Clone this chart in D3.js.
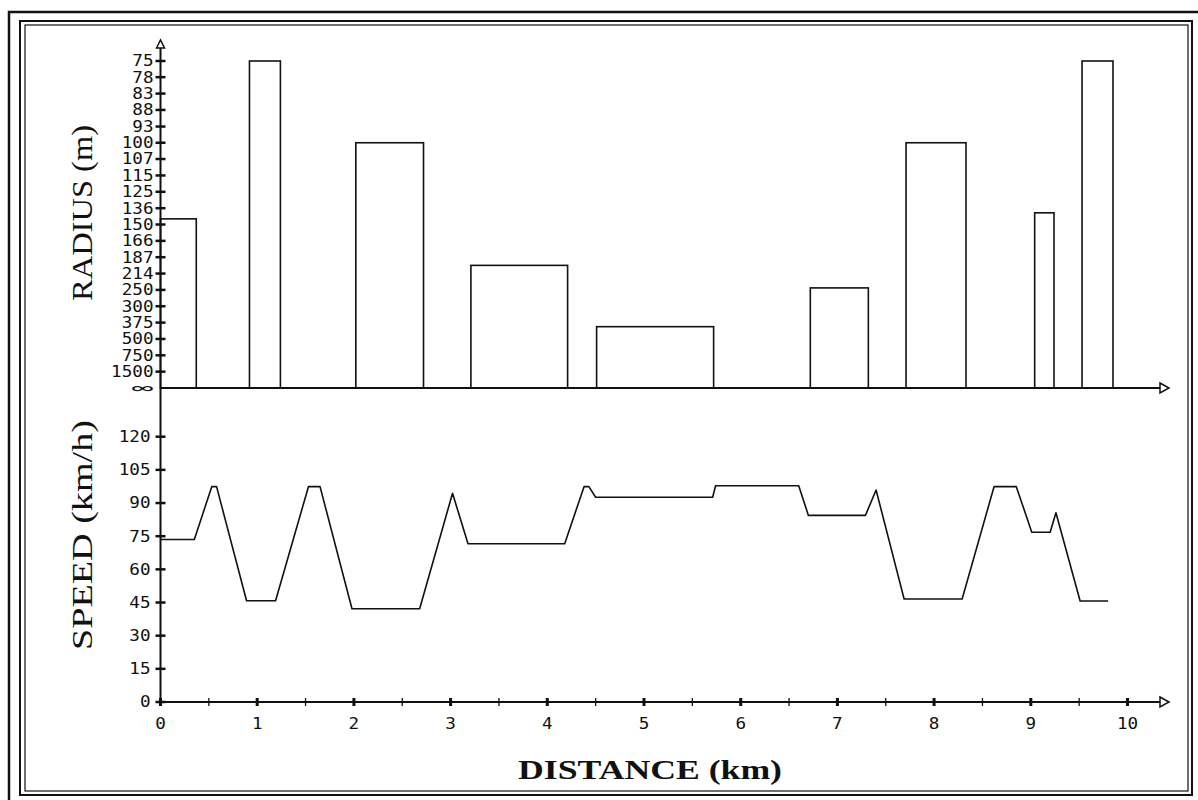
<!DOCTYPE html>
<html>
<head>
<meta charset="utf-8">
<script src="https://cdn.jsdelivr.net/npm/d3@7"></script>
<style>
  body { margin: 0; background: #fff; }
  #chart { width: 1198px; height: 800px; }
  .tick-label { font-family: "DejaVu Sans Mono", monospace; font-size: 15px; fill: #111; }
  .axis-title { font-family: "Liberation Serif", "DejaVu Serif", serif; fill: #111; }
</style>
</head>
<body>
<div id="chart"></div>
<script>
// curves along the road: start / end (km) and radius (m)
const curveStart = [0, 0.92, 2.02, 3.21, 4.51, 6.72, 7.71, 9.04, 9.53];
const curveEnd = [0.37, 1.24, 2.72, 4.21, 5.72, 7.32, 8.33, 9.24, 9.85];
const curveRadius = [145, 75, 100, 200, 400, 245, 100, 140, 75];

// speed profile
const speedDist = [0, 0.35, 0.53, 0.58, 0.89, 1.19, 1.53, 1.65, 1.98, 2.68,
    3.02, 3.18, 4.18, 4.38, 4.43, 4.50, 5.71, 5.74, 6.60, 6.70,
    7.29, 7.40, 7.69, 8.29, 8.62, 8.85, 9.01, 9.20, 9.26, 9.51, 9.80];
const speedValue = [73.5, 73.5, 97.4, 97.4, 45.8, 45.8, 97.4, 97.4, 42.2, 42.2,
    94.4, 71.6, 71.6, 97.4, 97.4, 92.6, 92.6, 97.8, 97.8, 84.4,
    84.4, 95.9, 46.6, 46.6, 97.4, 97.4, 76.8, 76.8, 85.6, 45.7, 45.7];

// radius axis (plotted on curvature 1/R)
const radiusTickRadii = [75, 78.9, 83.3, 88.2, 93.8, 100, 107.1, 115.4, 125, 136.4,
    150, 166.7, 187.5, 214.3, 250, 300, 375, 500, 750, 1500, Infinity];
const radiusTickLabels = ["75", "78", "83", "88", "93", "100", "107", "115", "125", "136",
    "150", "166", "187", "214", "250", "300", "375", "500", "750", "1500", "\u221E"];

const speedTicks = [0, 15, 30, 45, 60, 75, 90, 105, 120];
const distanceTicks = [0, 1, 2, 3, 4, 5, 6, 7, 8, 9, 10];
const distanceMinorTicks = [0.5, 1.5, 2.5, 3.5, 4.5, 5.5, 6.5, 7.5, 8.5, 9.5];

const W = 1198, H = 800;
const svg = d3.select("#chart").append("svg")
    .attr("width", W)
    .attr("height", H);

const ink = "#111";

// frame
svg.append("path")
    .attr("d", "M9,800 V12 H1198")
    .attr("fill", "none").attr("stroke", ink).attr("stroke-width", 2.5);
svg.append("rect")
    .attr("x", 20).attr("y", 21).attr("width", 1172).attr("height", 774)
    .attr("fill", "none").attr("stroke", ink).attr("stroke-width", 2);
svg.append("rect")
    .attr("x", 25).attr("y", 25).attr("width", 1163).attr("height", 766)
    .attr("fill", "none").attr("stroke", ink).attr("stroke-width", 1.2);

// scales
const x = d3.scaleLinear().domain([0, 10]).range([160.5, 1127.5]);
const yCurv = d3.scaleLinear().domain([0, 1 / 75]).range([388, 61]);
const ySpeed = d3.scaleLinear().domain([0, 120]).range([702, 436.7]);

const x0 = x(0);
const baseTop = yCurv(0);
const baseBot = ySpeed(0);

// curve bars
const curves = curveStart.map((s, i) => ({start: s, end: curveEnd[i], r: curveRadius[i]}));
svg.append("g").selectAll("rect")
    .data(curves)
    .enter().append("rect")
    .attr("x", d => x(d.start))
    .attr("y", d => yCurv(1 / d.r))
    .attr("width", d => x(d.end) - x(d.start))
    .attr("height", d => baseTop - yCurv(1 / d.r))
    .attr("fill", "none")
    .attr("stroke", ink)
    .attr("stroke-width", 1.6);

// speed line
const speedData = speedDist.map((d, i) => [d, speedValue[i]]);
svg.append("path")
    .datum(speedData)
    .attr("d", d3.line().x(d => x(d[0])).y(d => ySpeed(d[1])))
    .attr("fill", "none")
    .attr("stroke", ink)
    .attr("stroke-width", 1.6)
    .attr("stroke-linejoin", "round");

// axes lines
const axisG = svg.append("g").attr("stroke", ink).attr("fill", "none");
axisG.append("line").attr("x1", x0).attr("x2", x0).attr("y1", 46).attr("y2", baseBot).attr("stroke-width", 2);
axisG.append("line").attr("x1", x0).attr("x2", 1160).attr("y1", baseTop).attr("y2", baseTop).attr("stroke-width", 1.8);
axisG.append("line").attr("x1", x0).attr("x2", 1160).attr("y1", baseBot).attr("y2", baseBot).attr("stroke-width", 1.8);

// arrow heads (open triangles)
axisG.append("path").attr("d", `M${x0 - 4},48 L${x0},40 L${x0 + 4},48 Z`).attr("stroke-width", 1.5).attr("fill", "#fff");
[baseTop, baseBot].forEach(yy => {
    axisG.append("path").attr("d", `M1160,${yy - 5} L1169,${yy} L1160,${yy + 5} Z`).attr("stroke-width", 1.5).attr("fill", "#fff");
});

// radius ticks
const rTicks = radiusTickRadii.map((r, i) => ({c: 1 / r, label: radiusTickLabels[i]}));
svg.append("g").selectAll("line")
    .data(rTicks.slice(0, -1))
    .enter().append("line")
    .attr("x1", x0 - 5).attr("x2", x0 + 5)
    .attr("y1", d => yCurv(d.c)).attr("y2", d => yCurv(d.c))
    .attr("stroke", ink).attr("stroke-width", 2.5);
svg.append("g").selectAll("text")
    .data(rTicks)
    .enter().append("text")
    .attr("class", "tick-label")
    .attr("x", x0 - 7)
    .attr("y", d => yCurv(d.c))
    .attr("dy", "0.36em")
    .attr("text-anchor", "end")
    .attr("textLength", d => d.label === "\u221E" ? 22 : d.label.length * 10.6)
    .attr("lengthAdjust", "spacingAndGlyphs")
    .style("font-size", d => d.label === "\u221E" ? "14px" : null)
    .text(d => d.label);

// speed ticks
svg.append("g").selectAll("line")
    .data(speedTicks)
    .enter().append("line")
    .attr("x1", x0 - 5).attr("x2", x0 + 5)
    .attr("y1", d => ySpeed(d)).attr("y2", d => ySpeed(d))
    .attr("stroke", ink).attr("stroke-width", 2.5);
svg.append("g").selectAll("text")
    .data(speedTicks)
    .enter().append("text")
    .attr("class", "tick-label")
    .attr("x", x0 - 10)
    .attr("y", d => ySpeed(d))
    .attr("dy", "0.36em")
    .attr("text-anchor", "end")
    .attr("textLength", d => String(d).length * 10.6)
    .attr("lengthAdjust", "spacingAndGlyphs")
    .text(d => d);

// distance ticks
svg.append("g").selectAll("line")
    .data(distanceTicks)
    .enter().append("line")
    .attr("x1", d => x(d)).attr("x2", d => x(d))
    .attr("y1", baseBot - 4).attr("y2", baseBot + 4)
    .attr("stroke", ink).attr("stroke-width", 3);
svg.append("g").selectAll("line")
    .data(distanceMinorTicks)
    .enter().append("line")
    .attr("x1", d => x(d)).attr("x2", d => x(d))
    .attr("y1", baseBot - 4).attr("y2", baseBot + 4)
    .attr("stroke", ink).attr("stroke-width", 1.3);
svg.append("g").selectAll("text")
    .data(distanceTicks)
    .enter().append("text")
    .attr("class", "tick-label")
    .attr("x", d => x(d))
    .attr("y", 724)
    .attr("dy", "0.36em")
    .attr("text-anchor", "middle")
    .attr("textLength", d => String(d).length * 10.6)
    .attr("lengthAdjust", "spacingAndGlyphs")
    .text(d => d);

// axis titles
svg.append("text")
    .attr("class", "axis-title")
    .attr("transform", "translate(92,213) rotate(-90)")
    .attr("text-anchor", "middle")
    .attr("textLength", 176)
    .attr("lengthAdjust", "spacingAndGlyphs")
    .style("font-size", "29px")
    .text("RADIUS (m)");
svg.append("text")
    .attr("class", "axis-title")
    .attr("transform", "translate(92,535) rotate(-90)")
    .attr("text-anchor", "middle")
    .attr("textLength", 230)
    .attr("lengthAdjust", "spacingAndGlyphs")
    .style("font-size", "29px")
    .text("SPEED (km/h)");
svg.append("text")
    .attr("class", "axis-title")
    .attr("x", 650)
    .attr("y", 779)
    .attr("text-anchor", "middle")
    .attr("textLength", 264)
    .attr("lengthAdjust", "spacingAndGlyphs")
    .style("font-size", "28px")
    .style("font-weight", "bold")
    .text("DISTANCE (km)");
</script>
</body>
</html>
